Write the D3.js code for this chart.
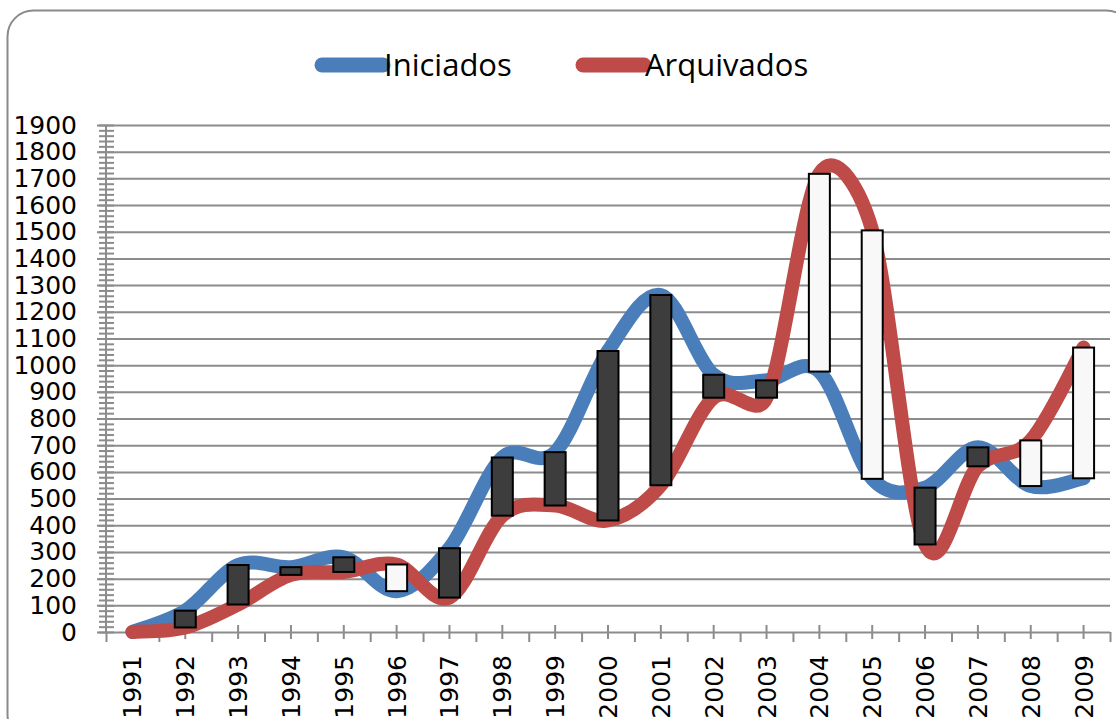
<!DOCTYPE html>
<html>
<head>
<meta charset="utf-8">
<script src="https://cdnjs.cloudflare.com/ajax/libs/d3/7.8.5/d3.min.js"></script>
<style>
    body { margin: 0; background: #fff; }
    #chart { width: 1116px; height: 719px; overflow: hidden; }
    .grid line, .minor line, .xmajor line, .xminor line { stroke: #8c8c8c; stroke-width: 2; }
    .grid .domain, .minor .domain, .xmajor .domain, .xminor .domain, .ylabels .domain { display: none; }
    .ylabels text, .xlabels text { font-family: "DejaVu Sans", sans-serif; font-size: 25px; fill: #000; }
    .legend text { font-family: "Open Sans", sans-serif; font-size: 31px; fill: #000; }
</style>
</head>
<body>
<div id="chart"></div>
<script>
'use strict';

// data
let years = ['1991','1992','1993','1994','1995','1996','1997','1998','1999','2000',
             '2001','2002','2003','2004','2005','2006','2007','2008','2009'];
let iniciados = [0, 80, 251, 243, 280, 153, 314, 654, 674, 1053, 1263, 964, 943, 976, 574, 541, 692, 547, 576];
let arquivados = [0, 17, 103, 214, 225, 253, 129, 436, 474, 418, 550, 878, 878, 1717, 1505, 328, 621, 718, 1066];
let seriesNames = ['Iniciados', 'Arquivados'];
let seriesColours = ['#4a7ebb', '#be4b48'];
let yTicks = d3.range(0, 1901, 100);
let yMinorTicks = d3.range(0, 1901, 20);

var Chart = function chart() {

    let svg = null;
    let layers = {};
    let xScale;
    let xEdges;
    let yScale;

    let renderSVG = function renderSVG(element, config) {
        svg = d3.select(element)
            .append('svg')
            .attr('width', config.width)
            .attr('height', config.height);

        // rounded chart border, runs off the bottom/right
        svg.append('rect')
            .attr('x', 7.5)
            .attr('y', 10.5)
            .attr('width', 1125)
            .attr('height', 730)
            .attr('rx', 26)
            .attr('fill', '#fff')
            .attr('stroke', '#8a8a8a')
            .attr('stroke-width', 2);
    }

    let renderLayers = function renderLayers() {
        layers.axis = svg.append('g').attr('class', 'axis');
        layers.lines = svg.append('g').attr('class', 'lines');
        layers.bars = svg.append('g').attr('class', 'bars');
        layers.legend = svg.append('g').attr('class', 'legend');
    }

    let setScale = function setScale(config) {
        xScale = d3.scaleBand()
            .domain(years)
            .range([config.plot.left, config.plot.right]);

        xEdges = d3.scaleLinear()
            .domain([0, years.length])
            .range([config.plot.left, config.plot.right]);

        yScale = d3.scaleLinear()
            .domain([0, 1900])
            .range([config.plot.bottom, config.plot.top]);
    }

    let cx = function cx(d) {
        return xScale(d) + xScale.bandwidth() / 2;
    }

    let renderYAxis = function renderYAxis(config) {
        let gridAxis = d3.axisLeft(yScale)
            .tickValues(yTicks)
            .tickSize(-(config.plot.right - config.gridLeft))
            .tickFormat('');

        layers.axis.append('g')
            .attr('class', 'grid')
            .attr('transform', 'translate(' + config.gridLeft + ',0)')
            .call(gridAxis);

        let minorAxis = d3.axisLeft(yScale)
            .tickValues(yMinorTicks)
            .tickSize(15)
            .tickFormat('');

        layers.axis.append('g')
            .attr('class', 'minor')
            .attr('transform', 'translate(' + (config.plot.left + 8) + ',0)')
            .call(minorAxis);

        layers.axis.append('line')
            .attr('x1', config.plot.left).attr('x2', config.plot.left)
            .attr('y1', yScale(1900)).attr('y2', yScale(0))
            .attr('stroke', '#8c8c8c')
            .attr('stroke-width', 2);

        let labelAxis = d3.axisLeft(yScale)
            .tickValues(yTicks)
            .tickSize(0)
            .tickPadding(config.gridLeft - 77)
            .tickFormat(d3.format('d'));

        layers.axis.append('g')
            .attr('class', 'ylabels')
            .attr('transform', 'translate(' + config.gridLeft + ',0)')
            .call(labelAxis);
    }

    let renderXAxis = function renderXAxis(config) {
        let centreAxis = d3.axisBottom(xScale)
            .tickSize(14)
            .tickFormat('');

        layers.axis.append('g')
            .attr('class', 'xmajor')
            .attr('transform', 'translate(0,' + (config.plot.bottom - 7) + ')')
            .call(centreAxis);

        let edgeAxis = d3.axisBottom(xEdges)
            .tickValues(d3.range(0, years.length + 1))
            .tickSize(10)
            .tickFormat('');

        layers.axis.append('g')
            .attr('class', 'xminor')
            .attr('transform', 'translate(0,' + config.plot.bottom + ')')
            .call(edgeAxis);

        layers.axis.append('g')
            .attr('class', 'xlabels')
            .selectAll('text')
            .data(years)
            .enter()
            .append('text')
            .attr('transform', d => 'translate(' + (cx(d) + 9) + ',' + (config.plot.bottom + 23) + ') rotate(-90)')
            .attr('text-anchor', 'end')
            .text(d => d);
    }

    // excel-ish smoothing: catmull-rom beziers, control arm capped at half the segment
    let smoothPath = function smoothPath(values) {
        let pts = values.map((v, i) => [cx(years[i]), yScale(v)]);
        let n = pts.length;
        let p = d3.path();
        let dist = (a, b) => Math.hypot(b[0] - a[0], b[1] - a[1]);

        p.moveTo(pts[0][0], pts[0][1]);
        for (let i = 0; i < n - 1; i++) {
            let p0 = pts[Math.max(i - 1, 0)];
            let p1 = pts[i];
            let p2 = pts[i + 1];
            let p3 = pts[Math.min(i + 2, n - 1)];
            let half = dist(p1, p2) / 2;
            let k1 = Math.min(1 / 6, half / (dist(p0, p2) || 1));
            let k2 = Math.min(1 / 6, half / (dist(p1, p3) || 1));
            p.bezierCurveTo(
                p1[0] + (p2[0] - p0[0]) * k1, p1[1] + (p2[1] - p0[1]) * k1,
                p2[0] - (p3[0] - p1[0]) * k2, p2[1] - (p3[1] - p1[1]) * k2,
                p2[0], p2[1]);
        }
        return p.toString();
    }

    let drawLines = function drawLines() {
        layers.lines.selectAll('.series')
            .data([iniciados, arquivados])
            .enter()
            .append('path')
            .attr('class', 'series')
            .attr('d', d => smoothPath(d))
            .attr('fill', 'none')
            .attr('stroke', (d, i) => seriesColours[i])
            .attr('stroke-width', 14)
            .attr('stroke-linecap', 'round')
            .attr('stroke-linejoin', 'round');
    }

    let drawUpDownBars = function drawUpDownBars() {
        let barWidth = 21;

        layers.bars.selectAll('.updown')
            .data(years)
            .enter()
            .append('rect')
            .attr('class', 'updown')
            .attr('x', d => cx(d) - barWidth / 2)
            .attr('y', (d, i) => yScale(Math.max(iniciados[i], arquivados[i])))
            .attr('width', barWidth)
            .attr('height', (d, i) => Math.abs(yScale(iniciados[i]) - yScale(arquivados[i])))
            .attr('fill', (d, i) => arquivados[i] > iniciados[i] ? '#f8f8f8' : '#3d3d3d')
            .attr('stroke', '#000')
            .attr('stroke-width', 2);
    }

    let drawLegend = function drawLegend() {
        let items = [{ x: 322 }, { x: 583 }];

        let g = layers.legend.selectAll('.item')
            .data(seriesNames)
            .enter()
            .append('g')
            .attr('class', 'item')
            .attr('transform', (d, i) => 'translate(' + items[i].x + ',65)');

        g.append('line')
            .attr('x1', 0).attr('x2', 61)
            .attr('y1', 0).attr('y2', 0)
            .attr('stroke', (d, i) => seriesColours[i])
            .attr('stroke-width', 15)
            .attr('stroke-linecap', 'round');

        g.append('text')
            .attr('x', 62)
            .attr('y', 11)
            .text(d => d);
    }

    let draw = function draw(el) {
        let config = {
            width: 1116,
            height: 719,
            gridLeft: 97,
            plot: { left: 106, right: 1110, top: 125, bottom: 632 }
        };

        renderSVG(el, config);
        renderLayers();
        setScale(config);
        renderYAxis(config);
        renderXAxis(config);
        drawLines();
        drawUpDownBars();
        drawLegend();
    }

    return {
        draw: draw
    }
}

Chart().draw('#chart');
</script>
</body>
</html>
